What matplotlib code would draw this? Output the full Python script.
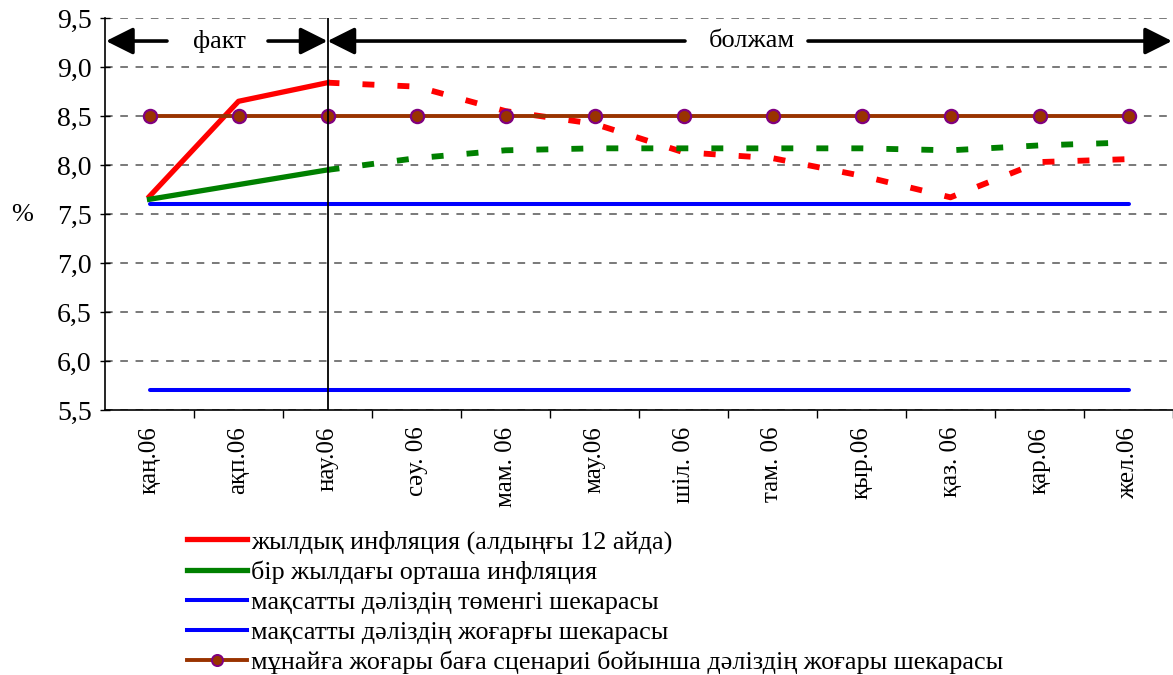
import matplotlib
matplotlib.use("Agg")
import matplotlib.pyplot as plt
from matplotlib.lines import Line2D

plt.rcParams['font.family'] = ['Liberation Serif', 'DejaVu Serif']
plt.rcParams['lines.scale_dashes'] = False

months = ['қаң.06', 'ақп.06', 'нау.06', 'сәу. 06', 'мам. 06', 'мау.06',
          'шіл. 06', 'там. 06', 'қыр.06', 'қаз. 06', 'қар.06', 'жел.06']
annual_infl = [7.68, 8.65, 8.84, 8.80, 8.55, 8.42, 8.13, 8.07, 7.89, 7.67, 8.03, 8.06]
avg_infl = [7.65, 7.80, 7.95, 8.07, 8.15, 8.17, 8.17, 8.17, 8.17, 8.15, 8.20, 8.23]
lower_bound = [7.6] * 12
upper_bound = [5.7] * 12
oil_upper = [8.5] * 12
n_fact = 3  # actual data: first three months, forecast afterwards

legend_labels = ['жылдық инфляция (алдыңғы 12 айда)',
                 'бір жылдағы орташа инфляция',
                 'мақсатты дәліздің төменгі шекарасы',
                 'мақсатты дәліздің жоғарғы шекарасы',
                 'мұнайға жоғары баға сценариі бойынша дәліздің жоғары шекарасы']

RED = '#FF0000'
GREEN = '#008000'
BLUE = '#0000FF'
BROWN = '#993300'
PURPLE = '#800080'

fig = plt.figure(figsize=(11.73, 6.75), dpi=100)
ax = fig.add_axes([105 / 1173, 1 - 410 / 675, 1 - 105 / 1173, (410 - 18) / 675])

x = list(range(len(months)))
dash = (0, (8.6, 16.6))

# corridor bounds
ax.plot(x, lower_bound, color=BLUE, lw=2.9, solid_capstyle='round', zorder=3)
ax.plot(x, upper_bound, color=BLUE, lw=2.9, solid_capstyle='round', zorder=3)

# inflation: actual (solid) and forecast (dashed)
ax.plot(x[:n_fact], annual_infl[:n_fact], color=RED, lw=3.8, zorder=4)
ax.plot(x[n_fact - 1:], annual_infl[n_fact - 1:], color=RED, lw=4.2, ls=dash, zorder=4)
ax.plot(x[:n_fact], avg_infl[:n_fact], color=GREEN, lw=3.8, zorder=4)
ax.plot(x[n_fact - 1:], avg_infl[n_fact - 1:], color=GREEN, lw=4.2, ls=dash, zorder=4)

# oil price scenario upper bound
ax.plot(x, oil_upper, color=BROWN, lw=2.8, marker='o', ms=9.5,
        markerfacecolor=BROWN, markeredgecolor=PURPLE, markeredgewidth=1.6, zorder=5)

# boundary between actual and forecast
ax.axvline(n_fact - 1, color='black', lw=1.3, zorder=6)

ax.set_xlim(-0.5, len(months) - 0.5)
ax.set_ylim(5.5, 9.5)
yt = [5.5 + 0.5 * i for i in range(9)]
ax.set_yticks(yt)
ax.set_yticklabels([f'{v:.1f}'.replace('.', ',') for v in yt], fontsize=20)
ax.set_xticks(x)
ax.set_xticklabels(months, rotation=90, fontsize=18)
ax.set_xticks([i + 0.5 for i in x], minor=True)
ax.tick_params(axis='x', which='major', length=0, pad=12)
ax.tick_params(axis='x', which='minor', length=6, direction='out', width=1)
ax.tick_params(axis='y', length=7, direction='inout', width=1, pad=6)

for v in yt:
    ax.axhline(v, color='#555555', lw=1.1, ls=(0, (5.5, 5.5)), zorder=1)

for s in ['top', 'right']:
    ax.spines[s].set_visible(False)
for s in ['left', 'bottom']:
    ax.spines[s].set_linewidth(1.2)
    ax.spines[s].set_zorder(6)

fig.text(22 / 1173, 1 - 215 / 675, '%', fontsize=19, ha='center', va='center')

# period arrows
ya = 9.265
def px2x(p):
    return (p - 105) / 89 - 0.5

arrow_kw = dict(arrowstyle='-|>,head_length=1.1,head_width=0.55', color='black', lw=2.6,
                shrinkA=0, shrinkB=0, mutation_scale=15)
ax.annotate('', xy=(px2x(106), ya), xytext=(px2x(167), ya), arrowprops=arrow_kw,
            annotation_clip=False, zorder=7)
ax.annotate('', xy=(n_fact - 1, ya), xytext=(px2x(268), ya), arrowprops=arrow_kw,
            annotation_clip=False, zorder=7)
ax.text(px2x(219), ya, 'факт', fontsize=19, ha='center', va='center', zorder=7)
ax.annotate('', xy=(n_fact - 1, ya), xytext=(px2x(685), ya), arrowprops=arrow_kw,
            annotation_clip=False, zorder=7)
ax.annotate('', xy=(px2x(1172), ya), xytext=(px2x(808), ya), arrowprops=arrow_kw,
            annotation_clip=False, zorder=7)
ax.text(px2x(752), ya, 'болжам', fontsize=19, ha='center', va='center', zorder=7)

handles = [
    Line2D([], [], color=RED, lw=3.8),
    Line2D([], [], color=GREEN, lw=3.8),
    Line2D([], [], color=BLUE, lw=2.9),
    Line2D([], [], color=BLUE, lw=2.9),
    Line2D([], [], color=BROWN, lw=2.8, marker='o', ms=8, markerfacecolor=BROWN,
           markeredgecolor=PURPLE, markeredgewidth=1.4),
]
fig.legend(handles, legend_labels, loc='upper left',
           bbox_to_anchor=(187 / 1173, 1 - 530 / 675), frameon=False,
           fontsize=18.8, handlelength=2.3, handletextpad=0.15, labelspacing=0.26,
           borderpad=0, borderaxespad=0)

fig.savefig('out.png', dpi=100)
